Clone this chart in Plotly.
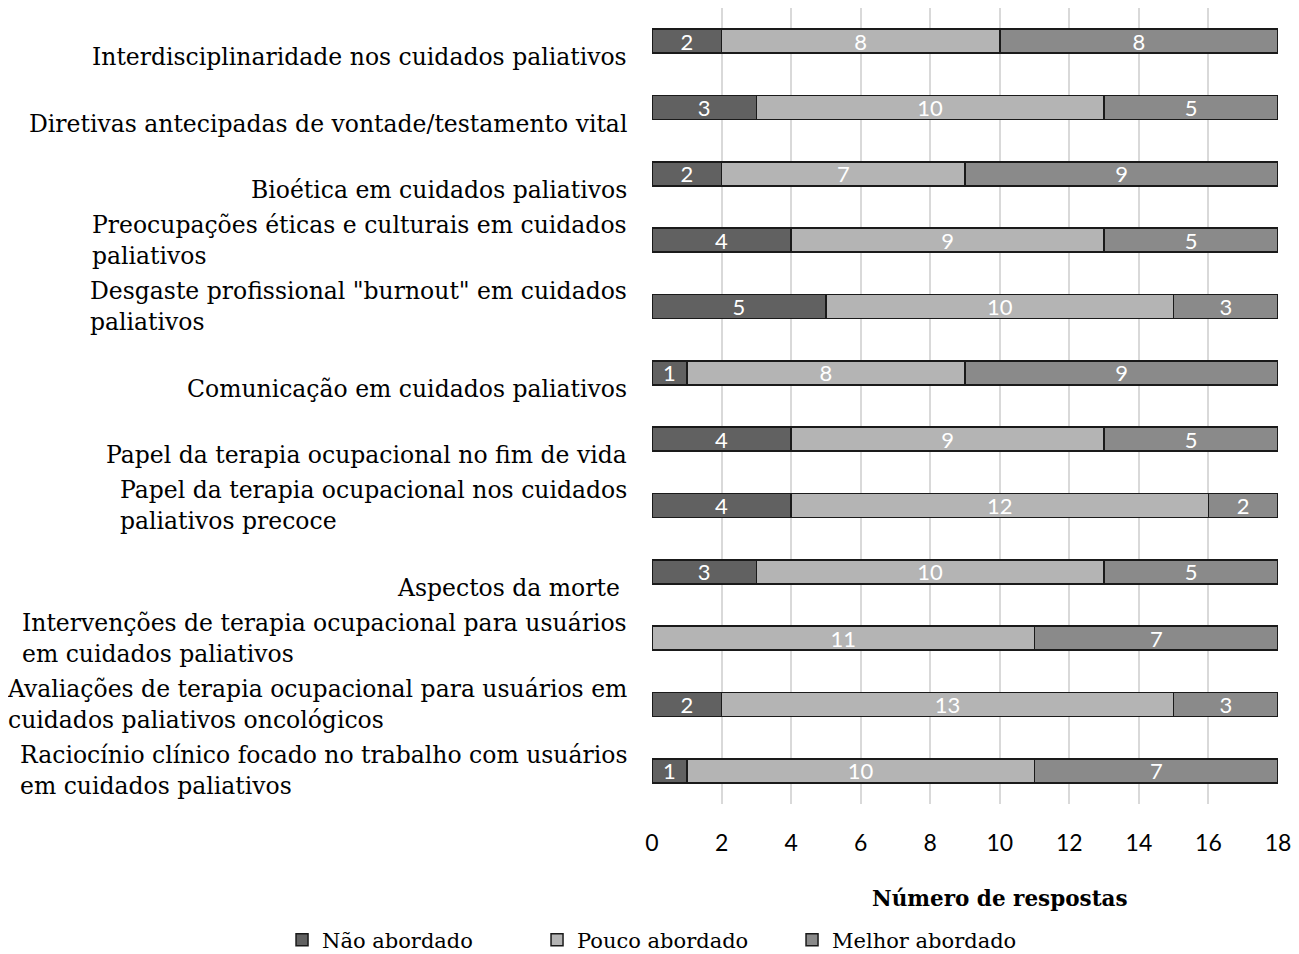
import plotly.graph_objects as go

categories = [
    "Interdisciplinaridade nos cuidados paliativos",
    "Diretivas antecipadas de vontade/testamento vital",
    "Bioética em cuidados paliativos",
    "Preocupações éticas e culturais em cuidados<br>paliativos",
    "Desgaste profissional \"burnout\" em cuidados<br>paliativos",
    "Comunicação em cuidados paliativos",
    "Papel da terapia ocupacional no fim de vida",
    "Papel da terapia ocupacional nos cuidados<br>paliativos precoce",
    "Aspectos da morte",
    "Intervenções de terapia ocupacional para usuários<br>em cuidados paliativos",
    "Avaliações de terapia ocupacional para usuários em<br>cuidados paliativos oncológicos",
    "Raciocínio clínico focado no trabalho com usuários<br>em cuidados paliativos",
]
nao_abordado = [2, 3, 2, 4, 5, 1, 4, 4, 3, 0, 2, 1]
pouco_abordado = [8, 10, 7, 9, 10, 8, 9, 12, 10, 11, 13, 10]
melhor_abordado = [8, 5, 9, 5, 3, 9, 5, 2, 5, 7, 3, 7]
x_ticks = [0, 2, 4, 6, 8, 10, 12, 14, 16, 18]

series = [
    ("Não abordado", nao_abordado, "#616161"),
    ("Pouco abordado", pouco_abordado, "#b4b4b4"),
    ("Melhor abordado", melhor_abordado, "#8a8a8a"),
]

SERIF = "DejaVu Serif"
SANS = "Lato"

fig = go.Figure()
for name, vals, color in series:
    fig.add_trace(go.Bar(
        name=name, y=categories, x=vals, orientation="h",
        marker=dict(color=color, line=dict(color="#1a1a1a", width=1.5)),
        text=[str(v) if v else "" for v in vals],
        textposition="inside", insidetextanchor="middle", textangle=0,
        constraintext="none",
        textfont=dict(color="white", size=22, family=SANS),
        hoverinfo="x+name",
    ))

annotations = []
for cat in categories:
    two_lines = "<br>" in cat
    annotations.append(dict(
        xref="paper", yref="y", x=-0.037, y=cat,
        xanchor="right", yanchor="middle", align="left",
        yshift=0 if two_lines else -16,
        xshift=-7 if cat == "Aspectos da morte" else 0,
        text=cat, showarrow=False,
        font=dict(family=SERIF, size=23.5, color="black"),
    ))
annotations.append(dict(
    xref="paper", yref="paper", x=0.556, y=-0.119,
    xanchor="center", yanchor="middle",
    text="<b>Número de respostas</b>", showarrow=False,
    font=dict(family=SERIF, size=21.5, color="black"),
))

fig.update_layout(
    width=1291, height=946,
    margin=dict(l=644, r=21, t=0, b=150, autoexpand=False),
    plot_bgcolor="white", paper_bgcolor="white",
    barmode="stack", bargap=0.64,
    showlegend=True,
    legend=dict(
        orientation="h", x=-0.591, y=-0.171, xanchor="left", yanchor="middle",
        font=dict(family=SERIF, size=21, color="black"),
        traceorder="normal", itemwidth=30,
        entrywidth=210, entrywidthmode="pixels",
    ),
    annotations=annotations,
    xaxis=dict(
        range=[0, 18], tickvals=x_ticks, showgrid=True, gridcolor="#d9d9d9",
        gridwidth=1.5, zeroline=False, showline=False,
        tickfont=dict(family=SANS, size=23, color="black"),
        ticklabelstandoff=23,
    ),
    yaxis=dict(
        autorange="reversed", showticklabels=False, showgrid=False,
        showline=False, zeroline=False,
    ),
)

fig.write_html("out.html")
